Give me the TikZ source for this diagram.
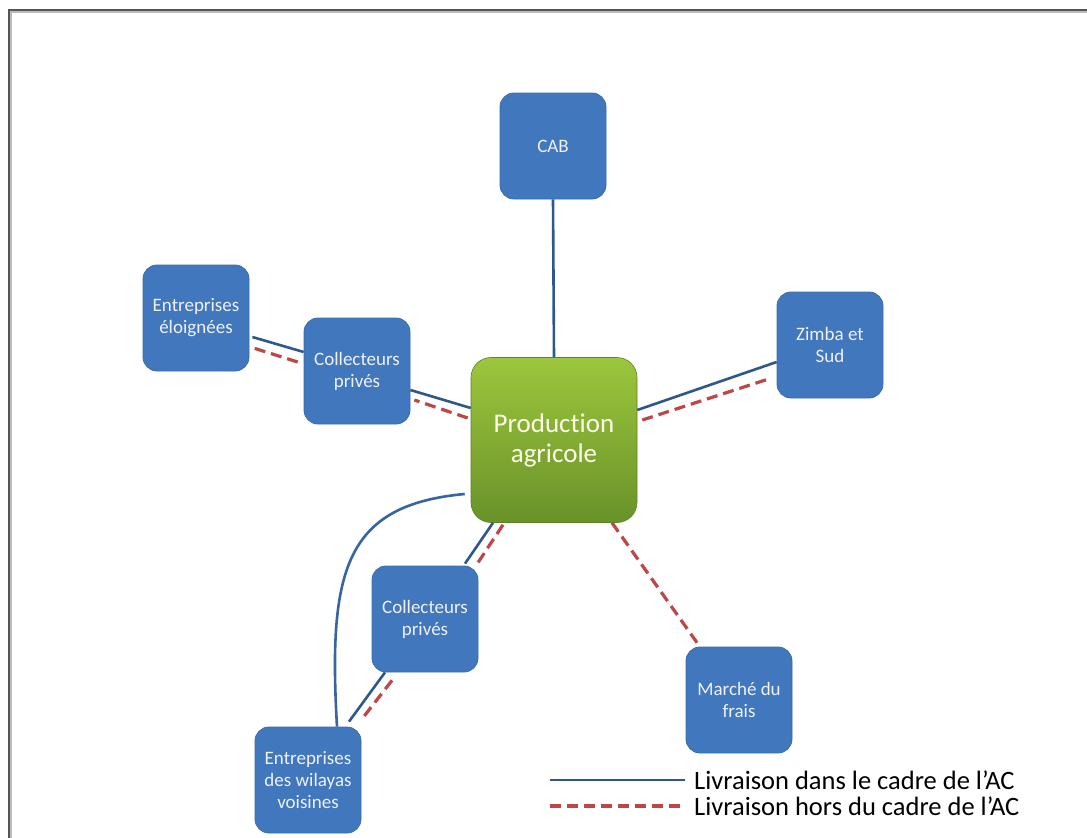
\documentclass[tikz,border=0pt]{standalone}
\usepackage{fontspec}
\setmainfont{Carlito}[Ligatures=NoCommon]
\usetikzlibrary{calc}
\definecolor{boxblue}{RGB}{64,119,189}
\definecolor{boxedge}{RGB}{58,108,172}
\definecolor{greentop}{RGB}{156,198,60}
\definecolor{greenbot}{RGB}{105,146,42}
\definecolor{lineblue}{RGB}{46,88,140}
\definecolor{linered}{RGB}{190,70,70}
\definecolor{framegray}{RGB}{85,85,85}
\begin{document}
\begin{tikzpicture}[x=1pt,y=-1pt,
  bluebox/.style={draw=boxedge,line width=0.8pt,fill=boxblue,rounded corners=14pt,
    minimum width=106pt,minimum height=106pt,inner sep=0pt,align=center,
    text=white!94!blue,font=\fontsize{19}{22}\selectfont},
  greenbox/.style={draw=greenbot!90!black,line width=0.6pt,rounded corners=20pt,
    top color=greentop,bottom color=greenbot,
    minimum width=166pt,minimum height=165pt,inner sep=0pt,align=center,
    text=white!92!yellow,font=\fontsize{27}{30}\selectfont},
  inlink/.style={draw=lineblue,line width=2.6pt},
  outlink/.style={draw=linered,line width=3.2pt,dash pattern=on 11pt off 6pt},
  legtext/.style={anchor=west,inner sep=0pt,font=\fontsize{26.5}{26}\selectfont,text=black}]
\useasboundingbox (0,0) rectangle (1087,838);
\fill[white] (0,0) rectangle (1087,838);
\draw[framegray!40,line width=1.5pt] (1090,12) -- (11,12) -- (11,841);
\draw[framegray,line width=1.6pt] (1090,10) -- (9,10) -- (9,841);

\node[greenbox] (prod) at (554,440) {Produc\kern0ptt\kern0ption\\agricole};
\node[bluebox] (cab) at (553,146) {CAB};
\node[bluebox] (zimba) at (830,345) {Zimba et\\Sud};
\node[bluebox] (col1) at (357,371) {Collecteurs\\privés};
\node[bluebox] (ent1) at (196,318) {Entreprises\\éloignées};
\node[bluebox] (col2) at (425,619) {Collecteurs\\privés};
\node[bluebox] (ent2) at (308,780) {Entreprises\\des wilayas\\voisines};
\node[bluebox] (marche) at (739,700) {Marché du\\frais};

% CAB
\draw[inlink] (cab.south) -- (prod.north);
% Zimba
\draw[inlink] ([yshift=30pt]prod.east) -- ([yshift=-17pt]zimba.west);
\draw[outlink] ([xshift=5pt,yshift=20pt]prod.east) -- ([xshift=-5pt,yshift=-33pt]zimba.west);
% Collecteurs (top)
\draw[inlink] ([yshift=32pt]prod.west) -- ([yshift=-19pt]col1.east);
\draw[outlink] ([xshift=-3pt,yshift=22pt]prod.west) -- ([xshift=4pt,yshift=-29pt]col1.east);
% Entreprises eloignees
\draw[inlink] ([yshift=19pt]col1.west) -- ([xshift=3pt,yshift=-19pt]ent1.east);
\draw[outlink] ([xshift=-6pt,yshift=9pt]col1.west) -- ([xshift=1pt,yshift=-29pt]ent1.east);
% Collecteurs (bottom)
\draw[inlink] ([xshift=-61pt]prod.south) -- ([xshift=40pt,yshift=2pt]col2.north);
\draw[outlink] ([xshift=-51pt,yshift=-2pt]prod.south) -- ([xshift=51pt]col2.north);
% Entreprises des wilayas
\draw[inlink] ([xshift=-40pt]col2.south) -- ([xshift=41pt,yshift=5pt]ent2.north);
\draw[outlink] ([xshift=-33pt,yshift=-8pt]col2.south) -- ([xshift=55pt,yshift=9pt]ent2.north);
% curve
\draw[draw=boxblue!85!black,line width=2.6pt] ([xshift=-6pt,yshift=-54pt]prod.west)
  .. controls (345,505) and (328,570) .. ([xshift=29pt]ent2.north);
% Marche du frais
\draw[outlink] ([xshift=58pt]prod.south) -- ([xshift=-42pt,yshift=4pt]marche.north);

% legend
\coordinate (l1a) at (550,780);
\coordinate (l1b) at (685,780);
\coordinate (l2a) at (550,806);
\coordinate (l2b) at (685,806);
\draw[inlink] (l1a) -- (l1b);
\draw[outlink] (l2a) -- (l2b);
\node[legtext] (t1) at (694,780) {Livraison dans le cadre de l’AC};
\node[legtext] (t2) at (694,806) {Livraison hors du cadre de l’AC};
\end{tikzpicture}
\end{document}
